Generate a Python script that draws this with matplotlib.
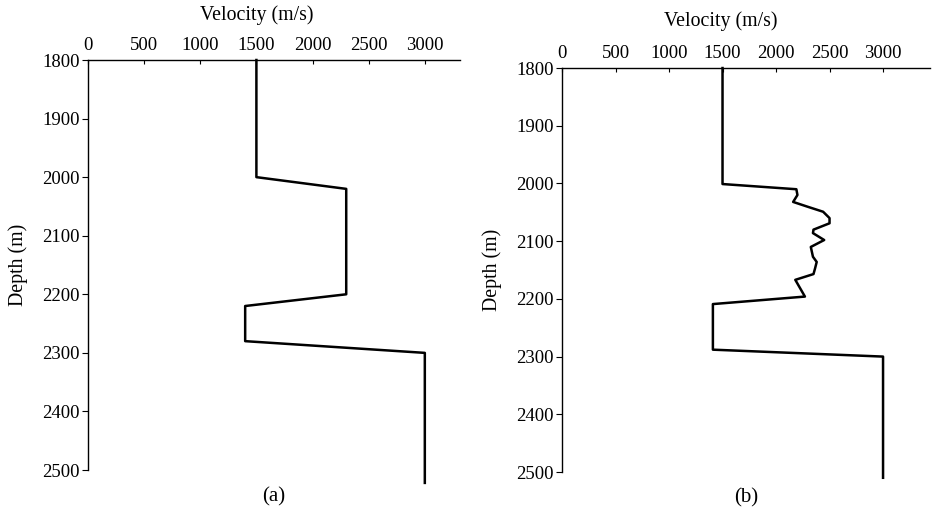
import matplotlib.pyplot as plt

plt.rcParams['font.family'] = ['Liberation Serif', 'DejaVu Serif']

# (a) blocky velocity model
vel_a = [1500, 1500, 2300, 2300, 1400, 1400, 3000, 3000]
depth_a = [1800, 2000, 2020, 2200, 2220, 2280, 2300, 2522]

# (b) velocity profile with detail in the 2000-2200 m interval
vel_b = [1500, 1500, 2190, 2200, 2160, 2290, 2440, 2500, 2500, 2350, 2345,
         2450, 2325, 2345, 2380, 2365, 2350, 2180, 2270, 1410, 1410, 3000, 3000]
depth_b = [1800, 2001, 2010, 2020, 2032, 2040, 2049, 2060, 2069, 2080, 2086,
           2098, 2110, 2127, 2136, 2147, 2157, 2167, 2196, 2209, 2288, 2300, 2510]

xticks = [0, 500, 1000, 1500, 2000, 2500, 3000]
yticks = [1800, 1900, 2000, 2100, 2200, 2300, 2400, 2500]

fig = plt.figure(figsize=(9.32, 5.12), dpi=100)

panels = [
    ([0.0944, 0.082, 0.399, 0.8008], 3312, vel_a, depth_a, "(a)", 0.454, 1.098),
    ([0.603, 0.0781, 0.395, 0.789], 3440, vel_b, depth_b, "(b)", 0.43, 1.103),
]

for rect, xmax, vel, depth, tag, lab_x, lab_y in panels:
    ax = fig.add_axes(rect)
    ax.plot(vel, depth, color="black", lw=1.8, clip_on=False)
    ax.set_xlim(0, xmax)
    ax.set_ylim(2500, 1800)
    ax.xaxis.tick_top()
    ax.xaxis.set_label_position("top")
    ax.set_xticks(xticks)
    ax.set_yticks(yticks)
    ax.spines["right"].set_visible(False)
    ax.spines["bottom"].set_visible(False)
    for s in ["top", "left"]:
        ax.spines[s].set_linewidth(1.0)
    ax.tick_params(axis="x", direction="in", length=3, width=0.8, labelsize=13.5, pad=4)
    ax.tick_params(axis="y", direction="out", length=4, width=0.8, labelsize=13.5, pad=2)
    ax.set_xlabel("Velocity (m/s)", fontsize=14.3)
    ax.xaxis.set_label_coords(lab_x, lab_y)
    ax.set_ylabel("Depth (m)", fontsize=14.3, labelpad=10)
    ax.text(0.5, -0.065, tag, transform=ax.transAxes, ha="center", va="center",
            fontsize=15)

fig.savefig("out.png", dpi=100)
